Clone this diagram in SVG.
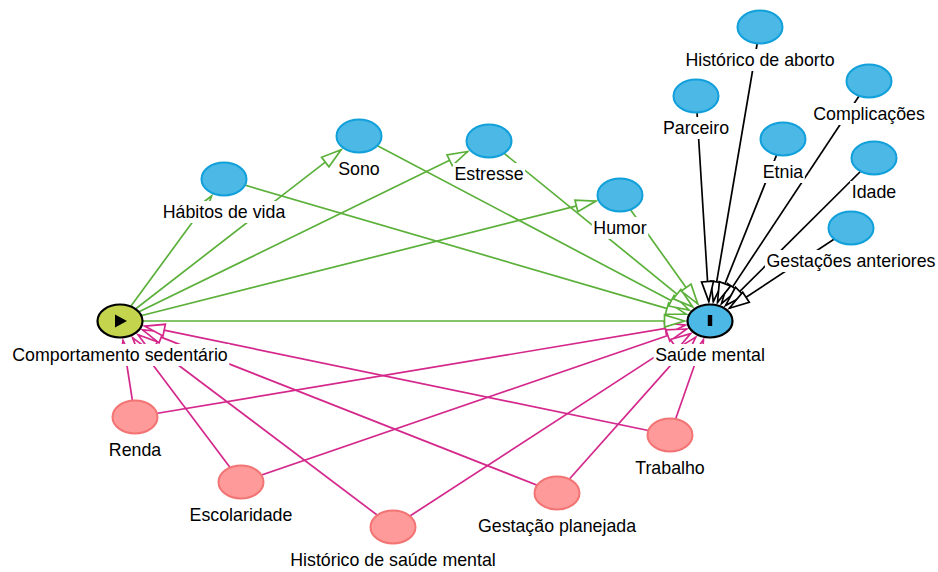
<svg xmlns="http://www.w3.org/2000/svg" width="938" height="572" viewBox="0 0 938 572">
  <defs>
    <style>
      .e { fill: none; stroke-width: 1.7; }
      .causal { stroke: #5bb03a; marker-end: url(#ah-causal); }
      .cov { stroke: #000; marker-end: url(#ah-cov); }
      .bias { stroke: #d4288c; marker-end: url(#ah-bias); }
      .lbl { fill: #fff; }
      text { font-family: "Liberation Sans", Arial, sans-serif; font-size: 17.8px; fill: #000; text-anchor: middle; }
      .anc { fill: #4bb8e6; stroke: #12a0db; stroke-width: 2; }
      .conf { fill: #ff9a9a; stroke: #f27474; stroke-width: 2; }
      .expo { fill: #c4d54d; stroke: #000; stroke-width: 2.2; }
      .outc { fill: #4bb8e6; stroke: #000; stroke-width: 2.2; }
    </style>
    <marker id="ah-causal" markerUnits="userSpaceOnUse" orient="auto" markerWidth="26" markerHeight="18" viewBox="-23 -9 26 18" refX="0" refY="0">
      <path d="M0,0 L-20,-6 L-20,6 Z" fill="#fff" stroke="#5bb03a" stroke-width="1.7"/>
    </marker>
    <marker id="ah-cov" markerUnits="userSpaceOnUse" orient="auto" markerWidth="26" markerHeight="18" viewBox="-23 -9 26 18" refX="0" refY="0">
      <path d="M0,0 L-20,-6 L-20,6 Z" fill="#fff" stroke="#000" stroke-width="1.7"/>
    </marker>
    <marker id="ah-bias" markerUnits="userSpaceOnUse" orient="auto" markerWidth="26" markerHeight="18" viewBox="-23 -9 26 18" refX="0" refY="0">
      <path d="M0,0 L-20,-6 L-20,6 Z" fill="#fff" stroke="#d4288c" stroke-width="1.7"/>
    </marker>
  </defs>

  <rect width="938" height="572" fill="#fff"/>

  <!-- connectors -->
  <g id="edges">
    <!-- confounders -> exposure / outcome -->
    <line class="e bias" x1="135" y1="417" x2="123.0" y2="340.4"/>
    <line class="e bias" x1="241" y1="482" x2="132.7" y2="337.9"/>
    <line class="e bias" x1="393" y1="527" x2="138.1" y2="334.7"/>
    <line class="e bias" x1="557" y1="493" x2="142.6" y2="329.9"/>
    <line class="e bias" x1="670" y1="435" x2="144.6" y2="326.1"/>
    <line class="e bias" x1="135" y1="417" x2="685.1" y2="325.2"/>
    <line class="e bias" x1="241" y1="482" x2="686.8" y2="329.0"/>
    <line class="e bias" x1="393" y1="527" x2="690.6" y2="333.6"/>
    <line class="e bias" x1="557" y1="493" x2="695.7" y2="337.1"/>
    <line class="e bias" x1="670" y1="435" x2="703.4" y2="339.8"/>
    <!-- covariates -> outcome -->
    <line class="e cov" x1="760" y1="27" x2="713.3" y2="301.7"/>
    <line class="e cov" x1="696" y1="96" x2="708.8" y2="301.5"/>
    <line class="e cov" x1="869" y1="81" x2="721.5" y2="303.6"/>
    <line class="e cov" x1="783" y1="139" x2="717.5" y2="302.4"/>
    <line class="e cov" x1="874" y1="158" x2="725.5" y2="305.6"/>
    <line class="e cov" x1="851" y1="228" x2="729.3" y2="308.3"/>
    <!-- causal paths -->
    <line class="e causal" x1="120" y1="321" x2="211.6" y2="196.0"/>
    <line class="e causal" x1="120" y1="321" x2="341.1" y2="149.8"/>
    <line class="e causal" x1="120" y1="321" x2="467.6" y2="151.5"/>
    <line class="e causal" x1="120" y1="321" x2="595.8" y2="201.1"/>
    <line class="e causal" x1="120" y1="321" x2="684.5" y2="321"/>
    <line class="e causal" x1="224" y1="179" x2="686.2" y2="314.1"/>
    <line class="e causal" x1="359" y1="136" x2="689.0" y2="310.0"/>
    <line class="e causal" x1="489" y1="141" x2="692.6" y2="306.8"/>
    <line class="e causal" x1="620" y1="195" x2="697.8" y2="303.9"/>
  </g>

  <!-- exposure -->
  <g id="comportamento-sedentario">
    <rect class="lbl" x="10.6" y="344" width="218.7" height="22"/>
    <text x="120" y="361">Comportamento sedentário</text>
    <ellipse class="expo" cx="120" cy="321" rx="22.5" ry="16.5"/>
    <path d="M115,314.5 L127,321 L115,327.5 Z" fill="#000"/>
  </g>

  <!-- outcome -->
  <g id="saude-mental">
    <rect class="lbl" x="653.6" y="344" width="112.8" height="22"/>
    <text x="710" y="361">Saúde mental</text>
    <ellipse class="outc" cx="710" cy="321" rx="22.5" ry="16.5"/>
    <rect x="707.8" y="315" width="4.4" height="11" fill="#000"/>
  </g>

  <!-- mediators -->
  <g id="habitos-de-vida">
    <rect class="lbl" x="161.1" y="201" width="125.7" height="22"/>
    <text x="224" y="218">Hábitos de vida</text>
    <ellipse class="anc" cx="224" cy="179" rx="22.5" ry="16.5"/>
  </g>
  <g id="sono">
    <rect class="lbl" x="336.7" y="158" width="44.6" height="22"/>
    <text x="359" y="175">Sono</text>
    <ellipse class="anc" cx="359" cy="136" rx="22.5" ry="16.5"/>
  </g>
  <g id="estresse">
    <rect class="lbl" x="452.9" y="163" width="72.2" height="22"/>
    <text x="489" y="180">Estresse</text>
    <ellipse class="anc" cx="489" cy="141" rx="22.5" ry="16.5"/>
  </g>
  <g id="humor">
    <rect class="lbl" x="591.8" y="217" width="56.4" height="22"/>
    <text x="620" y="234">Humor</text>
    <ellipse class="anc" cx="620" cy="195" rx="22.5" ry="16.5"/>
  </g>

  <!-- covariates of the outcome -->
  <g id="historico-de-aborto">
    <rect class="lbl" x="683.8" y="49" width="152.4" height="22"/>
    <text x="760" y="66">Histórico de aborto</text>
    <ellipse class="anc" cx="760" cy="27" rx="22.5" ry="16.5"/>
  </g>
  <g id="parceiro">
    <rect class="lbl" x="661.1" y="117" width="69.8" height="22"/>
    <text x="696" y="134">Parceiro</text>
    <ellipse class="anc" cx="696" cy="96" rx="22.5" ry="16.5"/>
  </g>
  <g id="complicacoes">
    <rect class="lbl" x="811.6" y="103" width="114.8" height="22"/>
    <text x="869" y="120">Complicações</text>
    <ellipse class="anc" cx="869" cy="81" rx="22.5" ry="16.5"/>
  </g>
  <g id="etnia">
    <rect class="lbl" x="761.2" y="161" width="43.6" height="22"/>
    <text x="783" y="178">Etnia</text>
    <ellipse class="anc" cx="783" cy="139" rx="22.5" ry="16.5"/>
  </g>
  <g id="idade">
    <rect class="lbl" x="850.2" y="181" width="47.5" height="22"/>
    <text x="874" y="198">Idade</text>
    <ellipse class="anc" cx="874" cy="158" rx="22.5" ry="16.5"/>
  </g>
  <g id="gestacoes-anteriores">
    <rect class="lbl" x="764.9" y="250" width="172.2" height="22"/>
    <text x="851" y="267">Gestações anteriores</text>
    <ellipse class="anc" cx="851" cy="228" rx="22.5" ry="16.5"/>
  </g>

  <!-- confounders -->
  <g id="renda">
    <rect class="lbl" x="107.3" y="439" width="55.4" height="22"/>
    <text x="135" y="456">Renda</text>
    <ellipse class="conf" cx="135" cy="417" rx="22.5" ry="16.5"/>
  </g>
  <g id="escolaridade">
    <rect class="lbl" x="188.0" y="504" width="105.9" height="22"/>
    <text x="241" y="521">Escolaridade</text>
    <ellipse class="conf" cx="241" cy="482" rx="22.5" ry="16.5"/>
  </g>
  <g id="historico-de-saude-mental">
    <rect class="lbl" x="288.6" y="549" width="208.8" height="22"/>
    <text x="393" y="566">Histórico de saúde mental</text>
    <ellipse class="conf" cx="393" cy="527" rx="22.5" ry="16.5"/>
  </g>
  <g id="gestacao-planejada">
    <rect class="lbl" x="476.3" y="515" width="161.3" height="22"/>
    <text x="557" y="532">Gestação planejada</text>
    <ellipse class="conf" cx="557" cy="493" rx="22.5" ry="16.5"/>
  </g>
  <g id="trabalho">
    <rect class="lbl" x="633.4" y="457" width="73.2" height="22"/>
    <text x="670" y="474">Trabalho</text>
    <ellipse class="conf" cx="670" cy="435" rx="22.5" ry="16.5"/>
  </g>
</svg>
